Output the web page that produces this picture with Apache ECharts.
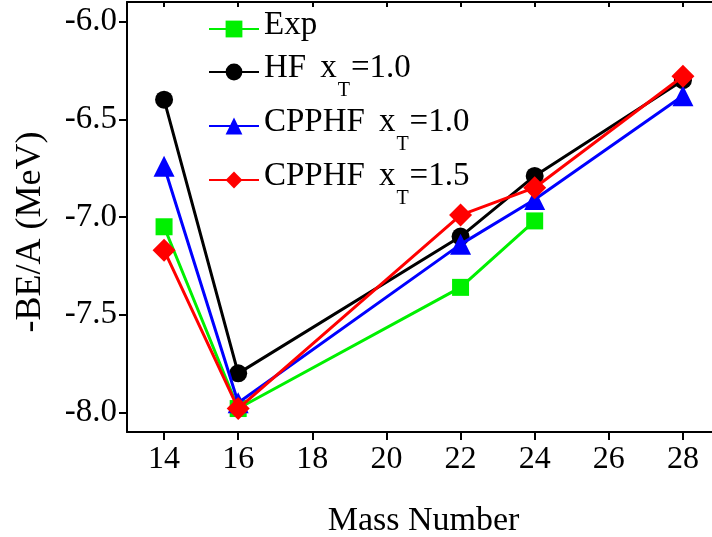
<!DOCTYPE html>
<html>
<head>
<meta charset="utf-8">
<script src="https://cdn.jsdelivr.net/npm/echarts@6/dist/echarts.min.js"></script>
<style>html,body{margin:0;padding:0;background:#fff;}#c{width:712px;height:537px;}</style>
</head>
<body>
<div id="c"></div>
<script>
// ---- data ----
const seriesNames = ['Exp', 'HF xT=1.0', 'CPPHF xT=1.0', 'CPPHF xT=1.5'];
const expMass = [14, 16, 22, 24];
const expValues = [-7.05, -7.98, -7.36, -7.02];
const calcMass = [14, 16, 22, 24, 28];
const hfValues = [-6.40, -7.80, -7.10, -6.79, -6.30];
const cpp10Values = [-6.74, -7.95, -7.14, -6.91, -6.38];
const cpp15Values = [-7.17, -7.98, -6.99, -6.85, -6.28];
const xTickValues = [14, 16, 18, 20, 22, 24, 26, 28];
const yTickValues = [-8.0, -7.5, -7.0, -6.5, -6.0];

const FONT = 'Liberation Serif';
const pairs = (xs, ys) => xs.map((x, i) => [x, ys[i]]);

const colors = ['#00f000', '#000000', '#0000ff', '#ff0000'];
const symbols = ['rect', 'circle', 'triangle', 'diamond'];
const sizes = [17, 18, 21, 23];
const dataSets = [pairs(expMass, expValues), pairs(calcMass, hfValues), pairs(calcMass, cpp10Values), pairs(calcMass, cpp15Values)];

const legendLabels = {
  'Exp': '{m|Exp}',
  'HF xT=1.0': '{m|HF}{x|x}{s|T}{m|=1.0}',
  'CPPHF xT=1.0': '{m|CPPHF}{x|x}{s|T}{m|=1.0}',
  'CPPHF xT=1.5': '{m|CPPHF}{x|x}{s|T}{m|=1.5}'
};
const legendTops = [9, 52, 106, 160];

const rich = {
  m: {fontFamily: FONT, fontSize: 33, lineHeight: 40, verticalAlign: 'top', color: '#000'},
  x: {fontFamily: FONT, fontSize: 33, lineHeight: 40, verticalAlign: 'top', color: '#000', padding: [0, 0, 0, 14]},
  s: {fontFamily: FONT, fontSize: 20, lineHeight: 20, verticalAlign: 'top', padding: [29, 1, 2, 1], color: '#000'}
};

const chart = echarts.init(document.getElementById('c'), null, {renderer: 'canvas'});
chart.setOption({
  animation: false,
  backgroundColor: '#fff',
  grid: {left: 127, right: -8, top: 2, bottom: 105, containLabel: false, outerBoundsMode: 'none'},
  legend: seriesNames.map((n, i) => ({
    data: [n],
    left: 208,
    top: legendTops[i],
    padding: 0,
    itemWidth: 50,
    itemHeight: 21,
    selectedMode: false,
    formatter: name => legendLabels[name],
    textStyle: {fontFamily: FONT, fontSize: 33, color: '#000', rich: rich}
  })),
  xAxis: [{
    type: 'value', min: 13, max: 29, position: 'bottom',
    name: 'Mass Number', nameLocation: 'middle', nameGap: 72,
    nameTextStyle: {fontFamily: FONT, fontSize: 34, color: '#000'},
    axisLine: {show: true, onZero: false, lineStyle: {color: '#000', width: 2}},
    axisTick: {show: true, inside: false, length: 8, lineStyle: {color: '#000', width: 2}, customValues: xTickValues},
    axisLabel: {fontFamily: FONT, fontSize: 32, color: '#000', margin: 12, customValues: xTickValues},
    splitLine: {show: false}
  }, {
    type: 'value', min: 13, max: 29, position: 'top',
    axisLine: {show: true, onZero: false, lineStyle: {color: '#000', width: 2}},
    axisTick: {show: true, inside: true, length: 5, lineStyle: {color: '#000', width: 2}, customValues: xTickValues},
    axisLabel: {show: false},
    splitLine: {show: false}
  }],
  yAxis: {
    type: 'value', min: -8.1, max: -5.9,
    name: '-BE/A (MeV)', nameLocation: 'middle', nameGap: 78,
    nameTextStyle: {fontFamily: FONT, fontSize: 36, color: '#000', padding: [0, 30, 0, 0]},
    axisLine: {show: true, onZero: false, lineStyle: {color: '#000', width: 2}},
    axisTick: {show: true, inside: false, length: 8, lineStyle: {color: '#000', width: 2}, customValues: yTickValues},
    axisLabel: {fontFamily: FONT, fontSize: 33, color: '#000', margin: 10, customValues: yTickValues,
      formatter: v => v.toFixed(1)},
    splitLine: {show: false}
  },
  series: seriesNames.map((n, i) => ({
    name: n,
    type: 'line',
    xAxisIndex: 0,
    data: dataSets[i],
    symbol: symbols[i],
    symbolSize: sizes[i],
    showAllSymbol: true,
    lineStyle: {color: colors[i], width: 3},
    itemStyle: {color: colors[i]},
    z: 2 + i
  }))
});
</script>
</body>
</html>
